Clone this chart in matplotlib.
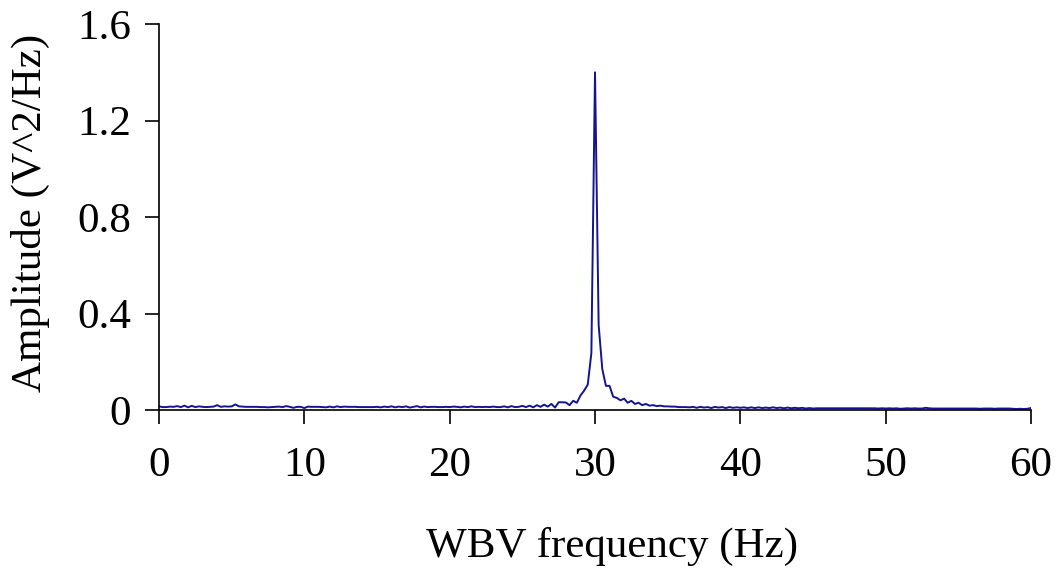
import numpy as np
import matplotlib
matplotlib.use("Agg")
import matplotlib.pyplot as plt

# Frequency axis: 0 to 60 Hz at 0.25 Hz resolution
freq_step = 0.25
amplitude = [
    # 0-4 Hz
    0.015, 0.012, 0.012, 0.014, 0.013, 0.016, 0.012, 0.018,
    0.011, 0.017, 0.012, 0.015, 0.013, 0.012, 0.013, 0.014,
    # 4-8 Hz
    0.020, 0.013, 0.015, 0.014, 0.015, 0.023, 0.015, 0.014,
    0.013, 0.013, 0.013, 0.013, 0.012, 0.012, 0.011, 0.012,
    # 8-12 Hz
    0.013, 0.014, 0.012, 0.016, 0.013, 0.009, 0.013, 0.013,
    0.008, 0.014, 0.013, 0.013, 0.013, 0.012, 0.011, 0.014,
    # 12-16 Hz
    0.011, 0.015, 0.012, 0.014, 0.013, 0.013, 0.013, 0.012,
    0.012, 0.012, 0.012, 0.012, 0.013, 0.011, 0.014, 0.012,
    # 16-20 Hz
    0.015, 0.011, 0.014, 0.012, 0.015, 0.010, 0.013, 0.016,
    0.011, 0.014, 0.012, 0.013, 0.013, 0.012, 0.012, 0.013,
    # 20-24 Hz
    0.012, 0.014, 0.013, 0.011, 0.014, 0.012, 0.015, 0.012,
    0.013, 0.012, 0.013, 0.012, 0.014, 0.012, 0.012, 0.015,
    # 24-28 Hz
    0.011, 0.016, 0.012, 0.013, 0.017, 0.012, 0.018, 0.011,
    0.020, 0.013, 0.022, 0.014, 0.025, 0.010, 0.032, 0.032,
    # 28-32 Hz
    0.031, 0.020, 0.038, 0.030, 0.060, 0.080, 0.105, 0.236,
    1.400, 0.353, 0.170, 0.100, 0.100, 0.055, 0.050, 0.040,
    # 32-36 Hz
    0.047, 0.030, 0.038, 0.025, 0.030, 0.020, 0.025, 0.018,
    0.020, 0.016, 0.018, 0.015, 0.015, 0.014, 0.014, 0.012,
    # 36-40 Hz
    0.012, 0.012, 0.011, 0.013, 0.009, 0.013, 0.010, 0.012,
    0.008, 0.013, 0.010, 0.012, 0.008, 0.012, 0.009, 0.011,
    # 40-44 Hz
    0.009, 0.011, 0.008, 0.011, 0.008, 0.011, 0.008, 0.010,
    0.008, 0.011, 0.008, 0.010, 0.007, 0.010, 0.007, 0.009,
    # 44-48 Hz
    0.007, 0.009, 0.006, 0.008, 0.006, 0.007, 0.007, 0.007,
    0.007, 0.007, 0.007, 0.007, 0.007, 0.007, 0.007, 0.007,
    # 48-52 Hz
    0.007, 0.007, 0.007, 0.007, 0.007, 0.007, 0.006, 0.007,
    0.006, 0.007, 0.006, 0.007, 0.005, 0.006, 0.007, 0.006,
    # 52-56 Hz
    0.007, 0.006, 0.006, 0.009, 0.007, 0.006, 0.006, 0.006,
    0.006, 0.006, 0.006, 0.006, 0.006, 0.006, 0.006, 0.006,
    # 56-60 Hz
    0.006, 0.006, 0.005, 0.006, 0.006, 0.006, 0.005, 0.006,
    0.006, 0.006, 0.006, 0.005, 0.004, 0.005, 0.004, 0.005,
    0.008,
]
frequency = np.arange(len(amplitude)) * freq_step

x_ticks = [0, 10, 20, 30, 40, 50, 60]
y_ticks = [0, 0.4, 0.8, 1.2, 1.6]
y_tick_labels = ["0", "0.4", "0.8", "1.2", "1.6"]

plt.rcParams['font.family'] = ['Liberation Serif', 'DejaVu Serif']

fig = plt.figure(figsize=(10.61, 5.73), dpi=100)
ax = fig.add_axes([0.1499, 0.2845, 0.8218, 0.6735])

ax.plot(frequency, amplitude, color='#141490', linewidth=1.4)

ax.set_xlim(0, 60)
ax.set_ylim(0, 1.6)
ax.set_xticks(x_ticks)
ax.set_yticks(y_ticks)
ax.set_yticklabels(y_tick_labels)

for side in ['top', 'right']:
    ax.spines[side].set_visible(False)
for side in ['left', 'bottom']:
    ax.spines[side].set_linewidth(1.2)
    ax.spines[side].set_color('black')

ax.tick_params(axis='both', direction='out', length=10, width=1.2,
               labelsize=31, colors='black')
ax.tick_params(axis='x', pad=16)
ax.tick_params(axis='y', pad=10)

ax.set_xlabel('WBV frequency (Hz)', fontsize=31, va='center')
ax.xaxis.set_label_coords(0.52, -0.355)
ax.set_ylabel('Amplitude (V^2/Hz)', fontsize=31, va='center')
ax.yaxis.set_label_coords(-0.148, 0.51)

fig.savefig('out.png', dpi=100)
